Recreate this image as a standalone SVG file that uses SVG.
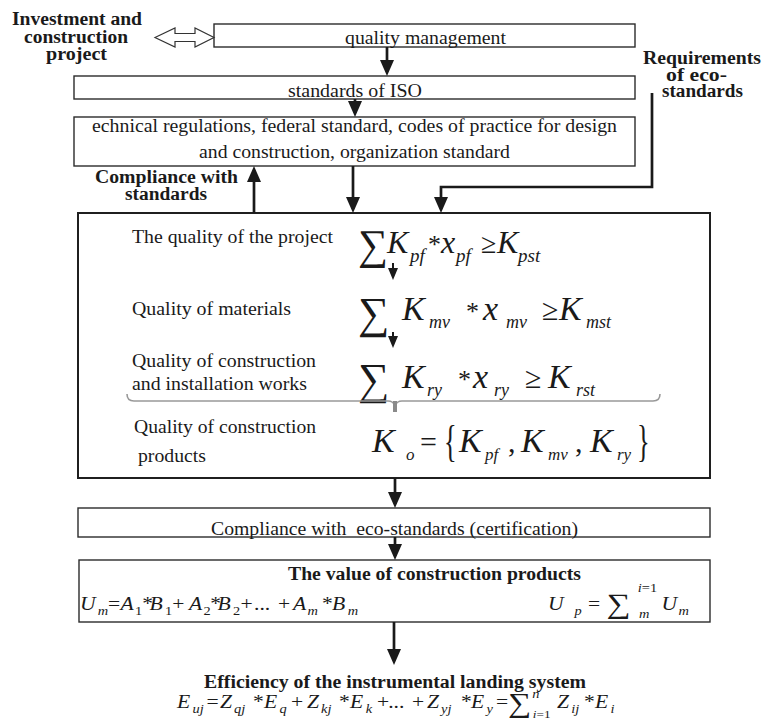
<svg xmlns="http://www.w3.org/2000/svg" width="763" height="726" viewBox="0 0 763 726">
<style>
.box{fill:none;stroke:#2b2b2b;stroke-width:1.4}
.big{fill:none;stroke:#1f1f1f;stroke-width:2}
text{font-family:'Liberation Serif','Times New Roman',serif;fill:#1a1a1a}
.t{font-size:18px}
.b{font-size:18px;font-weight:bold}
.i{font-style:italic}
.n{font-style:normal}
.con line,.con polyline{stroke:#1a1a1a;stroke-width:2.7;fill:none}
.con .s{stroke-width:2}
</style>
<defs>
<marker id="ah" viewBox="0 0 16 14" refX="12" refY="7" markerWidth="16" markerHeight="14" markerUnits="userSpaceOnUse" orient="auto"><path d="M0,0 L16,7 L0,14 z" fill="#1a1a1a"/></marker>
<marker id="ahs" viewBox="0 0 12 10" refX="9" refY="5" markerWidth="12" markerHeight="10" markerUnits="userSpaceOnUse" orient="auto"><path d="M0,0 L12,5 L0,10 z" fill="#1a1a1a"/></marker>
</defs>

<g id="investment">
<text class="b" x="12" y="25" textLength="130" lengthAdjust="spacingAndGlyphs">Investment and</text>
<text class="b" x="24" y="43" textLength="104" lengthAdjust="spacingAndGlyphs">construction</text>
<text class="b" x="46" y="60" textLength="61" lengthAdjust="spacingAndGlyphs">project</text>
</g>

<g id="quality-management">
<rect class="box" x="214" y="24" width="421" height="23"/>
<text class="t" x="345" y="44" textLength="161" lengthAdjust="spacingAndGlyphs">quality management</text>
</g>

<g id="iso">
<rect class="box" x="74" y="76" width="561" height="23"/>
<text class="t" x="288" y="97" textLength="134" lengthAdjust="spacingAndGlyphs">standards of ISO</text>
</g>

<g id="regulations">
<rect class="box" x="74" y="117" width="561" height="49"/>
<text class="t" x="92" y="132" textLength="525" lengthAdjust="spacingAndGlyphs">echnical regulations, federal standard, codes of practice for design</text>
<text class="t" x="199" y="158" textLength="311" lengthAdjust="spacingAndGlyphs">and construction, organization standard</text>
</g>

<g id="eco-requirements">
<text class="b" x="643" y="64" textLength="118" lengthAdjust="spacingAndGlyphs">Requirements</text>
<text class="b" x="666" y="81" textLength="61" lengthAdjust="spacingAndGlyphs">of eco-</text>
<text class="b" x="662" y="97" textLength="81" lengthAdjust="spacingAndGlyphs">standards</text>
</g>

<g id="compliance-label">
<text class="b" x="95" y="183" textLength="143" lengthAdjust="spacingAndGlyphs">Compliance with</text>
<text class="b" x="125" y="200" textLength="82" lengthAdjust="spacingAndGlyphs">standards</text>
</g>

<g id="quality-block">
<rect class="big" x="78" y="213" width="632" height="265"/>
<text class="t" x="132" y="243" textLength="201" lengthAdjust="spacingAndGlyphs">The quality of the project</text>
<text class="i" font-size="32"><tspan class="n" x="358" y="259" font-size="42">∑</tspan><tspan x="387" y="253">K</tspan><tspan x="410" y="262" font-size="19">pf</tspan><tspan class="n" x="428" y="253" font-size="26">*</tspan><tspan x="441" y="253">x</tspan><tspan x="456" y="262" font-size="19">pf</tspan><tspan class="n" x="481" y="253" font-size="28">≥</tspan><tspan x="497" y="253">K</tspan><tspan x="518" y="262" font-size="19">pst</tspan></text>

<text class="t" x="132" y="315" textLength="159" lengthAdjust="spacingAndGlyphs">Quality of materials</text>
<text class="i" font-size="34"><tspan class="n" x="358" y="328" font-size="44">∑</tspan><tspan x="402" y="320">K</tspan><tspan x="429" y="328" font-size="18">mv</tspan><tspan class="n" x="466" y="320" font-size="26">*</tspan><tspan x="483" y="320">x</tspan><tspan x="506" y="328" font-size="18">mv</tspan><tspan class="n" x="542" y="320" font-size="30">≥</tspan><tspan x="559" y="320">K</tspan><tspan x="586" y="328" font-size="18">mst</tspan></text>

<text class="t" x="132" y="367" textLength="184" lengthAdjust="spacingAndGlyphs">Quality of construction</text>
<text class="t" x="132" y="390" textLength="175" lengthAdjust="spacingAndGlyphs">and installation works</text>
<text class="i" font-size="34"><tspan class="n" x="358" y="394" font-size="44">∑</tspan><tspan x="402" y="388">K</tspan><tspan x="427" y="396" font-size="18">ry</tspan><tspan class="n" x="458" y="388" font-size="26">*</tspan><tspan x="473" y="388">x</tspan><tspan x="494" y="396" font-size="18">ry</tspan><tspan class="n" x="525" y="388" font-size="30">≥</tspan><tspan x="548" y="388">K</tspan><tspan x="576" y="396" font-size="18">rst</tspan></text>

<path d="M127,394 C127,399 129,401 134,401 L388,401 C392,401 394,403 395,406 C396,403 398,401 402,401 L653,401 C658,401 660,399 660,394" fill="none" stroke="#999" stroke-width="1.6"/>
<line x1="395" y1="401" x2="395" y2="412" stroke="#8a8a8a" stroke-width="4"/>

<text class="t" x="134" y="433" textLength="182" lengthAdjust="spacingAndGlyphs">Quality of construction</text>
<text class="t" x="138" y="462" textLength="68" lengthAdjust="spacingAndGlyphs">products</text>
<text class="i" font-size="34"><tspan x="372" y="452">K</tspan><tspan x="406" y="460" font-size="17">o</tspan><tspan class="n" x="420" y="452" font-size="30">=</tspan><tspan x="459" y="452">K</tspan><tspan x="485" y="460" font-size="17">pf</tspan><tspan class="n" x="508" y="452" font-size="30">,</tspan><tspan x="521" y="452">K</tspan><tspan x="548" y="460" font-size="17">mv</tspan><tspan class="n" x="575" y="452" font-size="30">,</tspan><tspan x="590" y="452">K</tspan><tspan x="617" y="460" font-size="17">ry</tspan></text>
<text transform="translate(444,456) scale(0.6,1)" font-size="44">{</text>
<text transform="translate(637,456) scale(0.6,1)" font-size="44">}</text>
</g>

<g id="certification">
<rect class="box" x="78" y="508" width="632" height="29"/>
<text class="t" x="211" y="535" textLength="367" lengthAdjust="spacingAndGlyphs" style="white-space:pre">Compliance with  eco-standards (certification)</text>
</g>

<g id="value">
<rect class="box" x="79" y="560" width="631" height="62"/>
<text class="b" x="288" y="580" textLength="293" lengthAdjust="spacingAndGlyphs">The value of construction products</text>
<g transform="scale(1.2,1)">
<text class="i" font-size="18"><tspan x="66.7" y="610">U</tspan><tspan x="81.5" y="615" font-size="12">m</tspan><tspan class="n" x="90" y="610">=</tspan><tspan x="100.4" y="610">A</tspan><tspan class="n" x="112.5" y="615" font-size="12">1</tspan><tspan class="n" x="118.5" y="610">*</tspan><tspan x="124.6" y="610">B</tspan><tspan class="n" x="137.5" y="615" font-size="12">1</tspan><tspan class="n" x="143.5" y="610">+</tspan><tspan x="157.5" y="610">A</tspan><tspan class="n" x="169.5" y="615" font-size="12">2</tspan><tspan class="n" x="175.2" y="610">*</tspan><tspan x="181.2" y="610">B</tspan><tspan class="n" x="194.2" y="615" font-size="12">2</tspan><tspan class="n" x="200.5" y="610">+</tspan><tspan class="n" x="211.7" y="610">...</tspan><tspan class="n" x="231.7" y="610">+</tspan><tspan x="244.2" y="610">A</tspan><tspan x="256.3" y="615" font-size="12">m</tspan><tspan class="n" x="268.3" y="610">*</tspan><tspan x="276.7" y="610">B</tspan><tspan x="289.8" y="615" font-size="12">m</tspan></text>

<text class="i" font-size="18"><tspan x="456.7" y="610">U</tspan><tspan x="478.8" y="615" font-size="12">p</tspan><tspan class="n" x="490" y="610">=</tspan><tspan class="n" x="505.5" y="613" font-size="28">∑</tspan><tspan x="531.5" y="592" font-size="12">i</tspan><tspan class="n" font-size="12">=1</tspan><tspan x="532.5" y="618" font-size="12">m</tspan><tspan x="551.3" y="610">U</tspan><tspan x="565.5" y="615" font-size="12">m</tspan></text>
</g>
</g>

<g id="efficiency">
<text class="b" x="204" y="688" textLength="382" lengthAdjust="spacingAndGlyphs">Efficiency of the instrumental landing system</text>
<g transform="scale(1.2,1)">
<text class="i" font-size="18"><tspan x="147.5" y="708">E</tspan><tspan x="160.5" y="713" font-size="12">uj</tspan><tspan class="n" x="172" y="708">=</tspan><tspan x="183.3" y="708">Z</tspan><tspan x="195" y="713" font-size="12">qj</tspan><tspan class="n" x="210.8" y="708">*</tspan><tspan x="220" y="708">E</tspan><tspan x="233" y="713" font-size="12">q</tspan><tspan class="n" x="242.5" y="708">+</tspan><tspan x="255.8" y="708">Z</tspan><tspan x="267.5" y="713" font-size="12">kj</tspan><tspan class="n" x="282.5" y="708">*</tspan><tspan x="291.7" y="708">E</tspan><tspan x="304.7" y="713" font-size="12">k</tspan><tspan class="n" x="314.2" y="708">+</tspan><tspan class="n" x="323.5" y="708">...</tspan><tspan class="n" x="343.3" y="708">+</tspan><tspan x="355.8" y="708">Z</tspan><tspan x="367.5" y="713" font-size="12">yj</tspan><tspan class="n" x="384.2" y="708">*</tspan><tspan x="392.5" y="708">E</tspan><tspan x="405.5" y="713" font-size="12">y</tspan><tspan class="n" x="413.3" y="708">=</tspan><tspan class="n" x="423.5" y="712" font-size="27">∑</tspan><tspan x="443.5" y="698" font-size="12">n</tspan><tspan x="444" y="718" font-size="11">i</tspan><tspan class="n" font-size="11">=1</tspan><tspan x="464.2" y="708">Z</tspan><tspan x="476" y="713" font-size="12">ij</tspan><tspan class="n" x="486.7" y="708">*</tspan><tspan x="495.8" y="708">E</tspan><tspan x="508.7" y="713" font-size="12">i</tspan></text>
</g>
</g>

<g id="connectors" class="con">
<polygon points="155,37.5 175,28 175,33.5 195,33.5 195,28 214,37.5 195,47 195,41.5 175,41.5 175,47" fill="#fff" stroke="#333" stroke-width="1.2"/>
<line x1="387" y1="47" x2="387" y2="72" marker-end="url(#ah)"/>
<line x1="355" y1="99" x2="355" y2="113" marker-end="url(#ah)"/>
<line x1="254" y1="213" x2="254" y2="170" marker-end="url(#ah)"/>
<line x1="353" y1="166" x2="353" y2="209" marker-end="url(#ah)"/>
<polyline points="652,93 652,187 441,187 441,209" marker-end="url(#ah)"/>
<line class="s" x1="393" y1="263" x2="393" y2="277" marker-end="url(#ahs)"/>
<line class="s" x1="393" y1="332" x2="393" y2="345" marker-end="url(#ahs)"/>
<line x1="395" y1="478" x2="395" y2="504" marker-end="url(#ah)"/>
<line x1="395" y1="537" x2="395" y2="556" marker-end="url(#ah)"/>
<line x1="394" y1="622" x2="394" y2="661" marker-end="url(#ah)"/>
</g>
</svg>
